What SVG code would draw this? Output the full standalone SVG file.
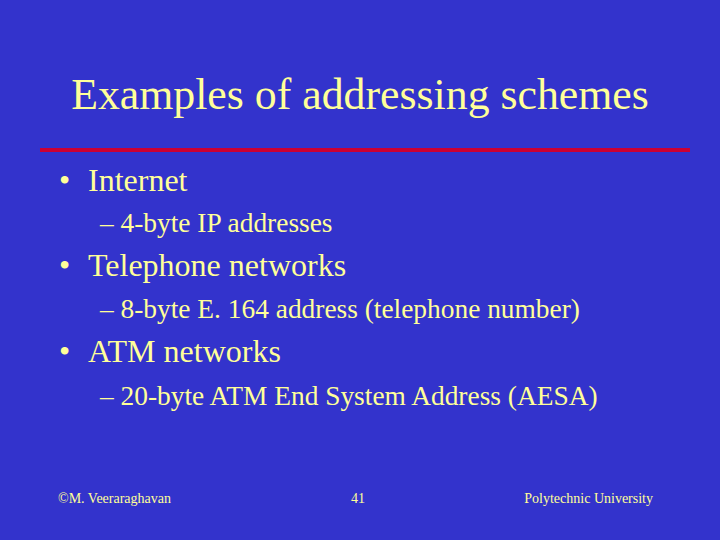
<svg xmlns="http://www.w3.org/2000/svg" width="720" height="540" viewBox="0 0 720 540">
<style>
text{font-family:"Liberation Serif","Times New Roman",serif;fill:#FFFF99}
.b{font-size:32px}.s{font-size:27.4px}.f{font-size:14px}
</style>
<rect width="720" height="540" fill="#3333CC"/>
<text x="360" y="109" font-size="43.8" text-anchor="middle">Examples of addressing schemes</text>
<rect x="40" y="148" width="650" height="4" fill="#CC0033"/>
<g id="b1"><text class="b" x="59" y="191">•</text><text class="b" x="88" y="191">Internet</text></g>
<text class="s" x="100" y="232">– 4-byte IP addresses</text>
<g id="b2"><text class="b" x="59" y="276">•</text><text class="b" x="88" y="276">Telephone networks</text></g>
<text class="s" x="100" y="318">– 8-byte E. 164 address (telephone number)</text>
<g id="b3"><text class="b" x="59" y="362">•</text><text class="b" x="88" y="362">ATM networks</text></g>
<text class="s" x="100" y="405">– 20-byte ATM End System Address (AESA)</text>
<text class="f" x="58" y="503">©M. Veeraraghavan</text>
<text class="f" x="358" y="503" text-anchor="middle">41</text>
<text class="f" x="653" y="503" text-anchor="end">Polytechnic University</text>
</svg>
